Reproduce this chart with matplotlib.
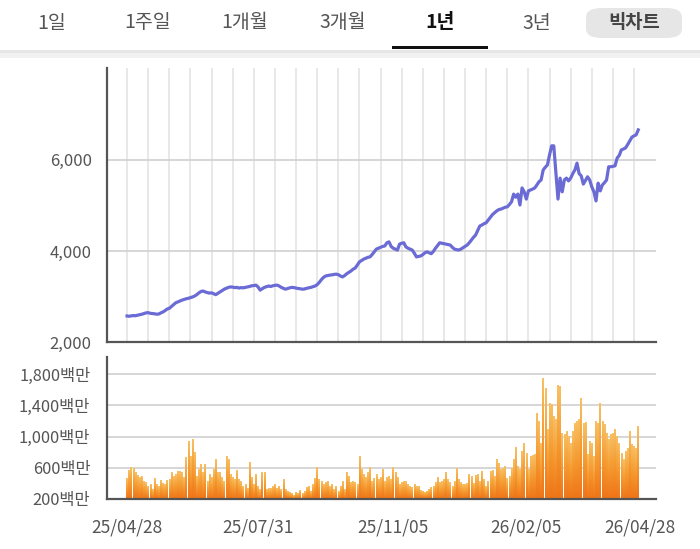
import numpy as np
import matplotlib.pyplot as plt
from matplotlib.colors import LinearSegmentedColormap
from matplotlib.patches import FancyBboxPatch, Rectangle

# daily close (trading days 25/04/28 ~ 26/04/28)
price = [
    2572, 2565, 2575, 2580, 2578, 2590, 2600, 2610, 2625, 2640,
    2645, 2630, 2625, 2620, 2610, 2615, 2640, 2660, 2690, 2725,
    2740, 2780, 2820, 2860, 2880, 2900, 2920, 2935, 2950, 2960,
    2975, 2990, 3010, 3040, 3080, 3110, 3120, 3100, 3085, 3075,
    3080, 3060, 3040, 3070, 3100, 3130, 3160, 3180, 3200, 3210,
    3205, 3195, 3200, 3185, 3195, 3190, 3200, 3210, 3220, 3235,
    3240, 3250, 3210, 3140, 3170, 3200, 3215, 3230, 3220, 3235,
    3245, 3250, 3230, 3200, 3180, 3160, 3175, 3190, 3200, 3195,
    3185, 3175, 3170, 3160, 3165, 3180, 3190, 3200, 3215, 3230,
    3260, 3310, 3370, 3420, 3450, 3460, 3470, 3475, 3485, 3490,
    3480, 3450, 3430, 3460, 3500, 3530, 3560, 3600, 3625, 3690,
    3760, 3790, 3820, 3840, 3860, 3870, 3920, 3980, 4040, 4060,
    4080, 4100, 4110, 4180, 4200, 4100, 4060, 4040, 4020, 4150,
    4170, 4180, 4090, 4060, 4040, 4020, 3950, 3870, 3880, 3890,
    3920, 3960, 3980, 3960, 3940, 3990, 4060, 4120, 4180, 4170,
    4160, 4150, 4140, 4130, 4080, 4040, 4030, 4020, 4040, 4070,
    4100, 4130, 4180, 4240, 4300, 4350, 4450, 4550, 4570, 4600,
    4620, 4680, 4740, 4800, 4840, 4880, 4910, 4920, 4940, 4960,
    4970, 5020, 5080, 5250, 5180, 5250, 5010, 5385, 5300, 5140,
    5320, 5340, 5360, 5385, 5450, 5520, 5560, 5780, 5840, 5890,
    6110, 6310, 6310, 5740, 5140, 5600, 5300, 5560, 5600, 5540,
    5600, 5700, 5780, 5930, 5700, 5650, 5470, 5550, 5630, 5560,
    5410, 5300, 5100, 5490, 5320, 5450, 5500, 5560, 5850, 5850,
    5860, 5870, 6040, 6100, 6220, 6240, 6265, 6340, 6420, 6500,
    6530, 6550, 6660,
]

# trading volume (백만)
volume = [
    460, 560, 600, 595, 540, 500, 475, 490, 430, 410,
    365, 380, 320, 460, 385, 364, 440, 400, 390, 440,
    450, 540, 490, 510, 555, 555, 534, 470, 730, 940,
    750, 960, 790, 492, 580, 640, 534, 640, 430, 510,
    470, 577, 705, 534, 545, 470, 430, 750, 700, 510,
    470, 450, 560, 449, 430, 364, 380, 340, 665, 470,
    390, 515, 364, 321, 545, 534, 321, 330, 340, 364,
    390, 340, 364, 321, 450, 321, 300, 279, 270, 250,
    279, 270, 313, 270, 300, 343, 364, 300, 385, 458,
    600, 449, 428, 385, 407, 428, 364, 385, 321, 364,
    300, 364, 428, 321, 534, 492, 407, 428, 407, 385,
    747, 577, 513, 470, 534, 598, 428, 458, 513, 449,
    470, 577, 428, 470, 492, 449, 598, 534, 470, 385,
    407, 428, 428, 385, 364, 343, 385, 364, 364, 313,
    300, 279, 300, 321, 343, 364, 407, 470, 407, 428,
    449, 534, 449, 407, 364, 428, 585, 449, 407, 385,
    383, 404, 511, 490, 404, 498, 511, 426, 554, 447,
    362, 426, 554, 562, 490, 711, 660, 575, 596, 617,
    468, 490, 596, 703, 865, 617, 575, 809, 907, 788,
    575, 745, 754, 767, 1299, 1192, 916, 1746, 1618, 1086,
    1427, 1406, 1256, 1214, 1661, 1640, 1043, 1022, 1065, 1001,
    916, 1065, 1171, 1192, 1214, 1490, 1171, 1180, 767, 937,
    916, 745, 1192, 1171, 1427, 1192, 1150, 1043, 958, 1022,
    1043, 1086, 1001, 916, 788, 703, 809, 852, 1065, 894,
    873, 852, 1129,
]

tick_idx = [0, 62, 126, 189, 243]
tick_labels = ['25/04/28', '25/07/31', '25/11/05', '26/02/05', '26/04/28']
tabs = ['1일', '1주일', '1개월', '3개월', '1년', '3년', '빅차트']
tab_x = [52, 148, 245, 343, 440, 537, 634]
price_ticks = [2000, 4000, 6000]
vol_ticks = [200, 600, 1000, 1400, 1800]

plt.rcParams['font.family'] = ['Noto Sans CJK KR', 'DejaVu Sans']

W, H = 700, 549
fig = plt.figure(figsize=(7, 5.49), dpi=100)


def box(l, t, r, b):
    return [l / W, 1 - b / H, (r - l) / W, (b - t) / H]


# top tab bar
fig.patches.append(Rectangle((0, 1 - 58 / H), 1, 7 / H, transform=fig.transFigure,
                             color='#f1f1f1', lw=0))
fig.patches.append(Rectangle((0, 1 - 53 / H), 1, 3 / H, transform=fig.transFigure,
                             color='#e6e6e6', lw=0))
fig.patches.append(FancyBboxPatch((586 / W, 1 - 38 / H), 96 / W, 30 / H,
                                  boxstyle='round,pad=0,rounding_size=0.022',
                                  transform=fig.transFigure, color='#e6e6e6', lw=0,
                                  mutation_aspect=H / W))
fig.patches.append(Rectangle((392 / W, 1 - 49 / H), 96 / W, 3 / H,
                             transform=fig.transFigure, color='#111111', lw=0))
for t, tx in zip(tabs, tab_x):
    if t == '1년':
        fig.text(tx / W, 1 - 23 / H, t, ha='center', va='center', fontsize=14,
                 color='#111111', fontweight='bold')
    elif t == '빅차트':
        fig.text(tx / W, 1 - 23 / H, t, ha='center', va='center', fontsize=13.5,
                 color='#444444', fontweight='bold')
    else:
        fig.text(tx / W, 1 - 23 / H, t, ha='center', va='center', fontsize=14,
                 color='#555555')

x = np.arange(len(price))
xlim = (-9.5, 250.4)

# price panel
ax1 = fig.add_axes(box(107, 68, 656, 342))
ax1.plot(x, price, color='#6b6bd6', lw=2.3, solid_joinstyle='round', zorder=3)
ax1.set_xlim(*xlim)
ax1.set_ylim(2000, 8020)
ax1.set_yticks(price_ticks)
ax1.set_yticklabels([f'{v:,}' for v in price_ticks])
ax1.set_xticks([])
ax1.set_xticks(np.arange(0, 241, 10), minor=True)
ax1.grid(axis='y', color='#cfcfcf', lw=1.2)
ax1.grid(axis='x', which='minor', color='#e6e6e6', lw=1.3)
ax1.tick_params(axis='both', which='both', length=0)
ax1.tick_params(axis='y', labelsize=12, labelcolor='#555555', pad=11)

# volume panel
ax2 = fig.add_axes(box(107, 357, 656, 499))
cmap = LinearSegmentedColormap.from_list('vol', ['#ef7418', '#f59a30', '#f8c064'])
grad = np.linspace(0, 1, 64).reshape(-1, 1)
bars = ax2.bar(x, volume, width=0.75, color='#f39a33', lw=0, zorder=2)
for b in bars:
    x0, w, h = b.get_x(), b.get_width(), b.get_height()
    ax2.imshow(grad, extent=[x0, x0 + w, 200, h], origin='lower', aspect='auto',
               cmap=cmap, zorder=2.5, interpolation='bilinear')
ax2.set_xlim(*xlim)
ax2.set_ylim(200, 2020)
ax2.set_yticks(vol_ticks)
ax2.set_yticklabels([f'{v:,}백만' for v in vol_ticks])
ax2.set_xticks(tick_idx)
ax2.set_xticklabels(tick_labels)
ax2.grid(axis='y', color='#cfcfcf', lw=1.2)
ax2.set_axisbelow(True)
ax2.tick_params(axis='both', length=0, labelcolor='#555555')
ax2.tick_params(axis='y', pad=12, labelsize=11.8)
ax2.tick_params(axis='x', pad=14, labelsize=12.5)

for ax in (ax1, ax2):
    for s in ('top', 'right'):
        ax.spines[s].set_visible(False)
    for s in ('left', 'bottom'):
        ax.spines[s].set_color('#555555')
        ax.spines[s].set_linewidth(1.6)
        ax.spines[s].set_zorder(4)

fig.savefig('out.png', dpi=100, facecolor='white')
